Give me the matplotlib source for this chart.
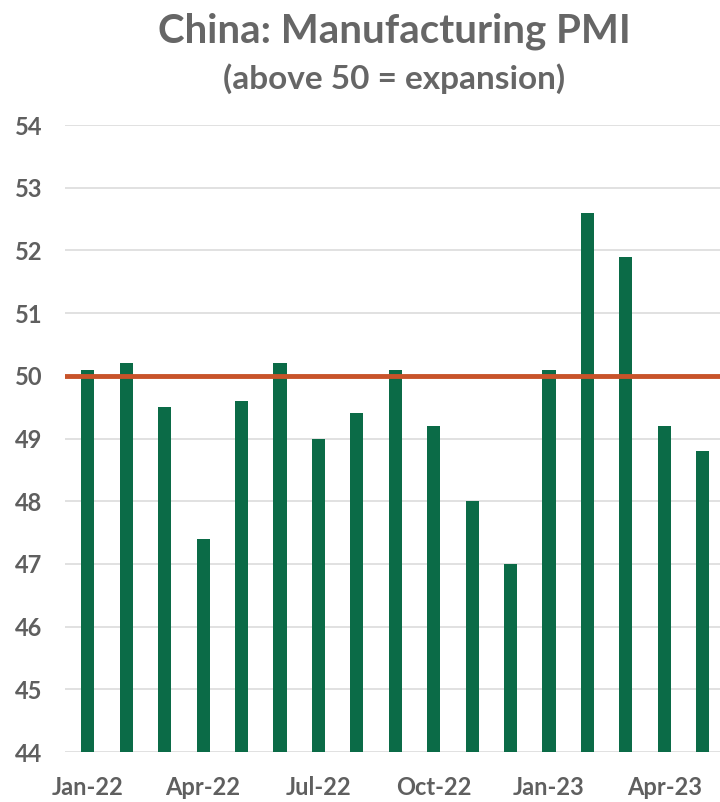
import matplotlib
matplotlib.use("Agg")
import matplotlib.pyplot as plt

months = ["Jan-22", "Feb-22", "Mar-22", "Apr-22", "May-22", "Jun-22", "Jul-22",
          "Aug-22", "Sep-22", "Oct-22", "Nov-22", "Dec-22", "Jan-23", "Feb-23",
          "Mar-23", "Apr-23", "May-23"]
pmi = [50.1, 50.2, 49.5, 47.4, 49.6, 50.2, 49.0, 49.4, 50.1, 49.2, 48.0, 47.0,
       50.1, 52.6, 51.9, 49.2, 48.8]
threshold = 50
y_ticks = [44, 45, 46, 47, 48, 49, 50, 51, 52, 53, 54]

plt.rcParams['font.family'] = ['Lato', 'DejaVu Sans']

fig = plt.figure(figsize=(7.2, 8.02), dpi=100)
ax = fig.add_axes([0.09, 0.0623, 0.91, 0.7818])

x = list(range(len(months)))
ax.bar(x, [v - 44 for v in pmi], bottom=44, width=0.34, color="#0b6b47", zorder=2)
ax.axhline(threshold, color="#c8532a", lw=3.5, zorder=3)

ax.set_ylim(44, 54)
ax.set_xlim(-0.6, 16.45)
ax.set_yticks(y_ticks)
ax.set_yticklabels([str(t) for t in y_ticks], fontsize=17, fontweight="bold", color="#5f5f5f")
ax.set_xticks(x[::3])
ax.set_xticklabels(months[::3], fontsize=17, fontweight="bold", color="#5f5f5f")
ax.tick_params(axis="both", length=0)
ax.tick_params(axis="y", pad=16)
ax.tick_params(axis="x", pad=17)
ax.yaxis.grid(True, color="#dcdcdc", lw=1.2, zorder=0)
for s in ax.spines.values():
    s.set_visible(False)

fig.text(0.548, 0.961, "China: Manufacturing PMI", ha="center", va="center",
         fontsize=29, fontweight="bold", color="#666666")
fig.text(0.548, 0.902, "(above 50 = expansion)", ha="center", va="center",
         fontsize=24, fontweight="bold", color="#666666")

fig.savefig("out.png", dpi=100)
